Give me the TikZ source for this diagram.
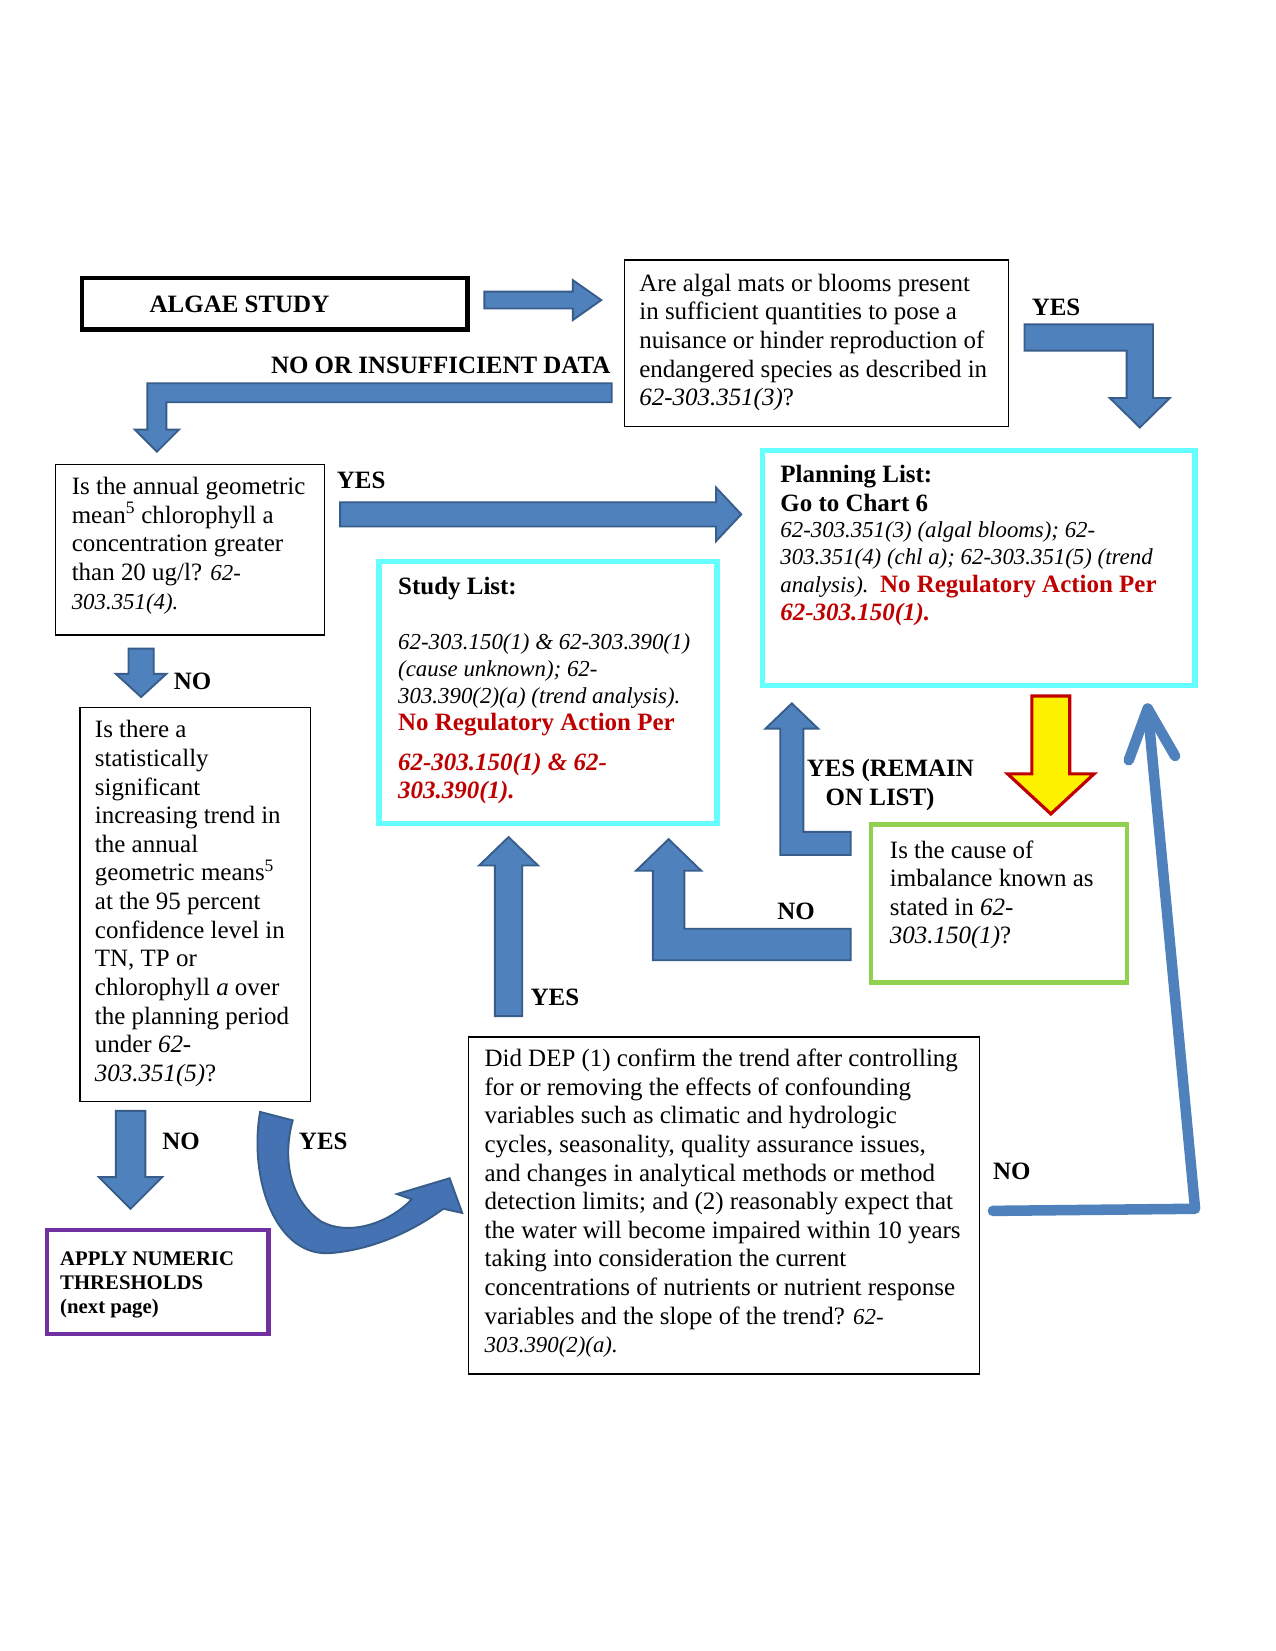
\documentclass[tikz,border=0pt]{standalone}
\usepackage{fontspec}
\setmainfont{Liberation Serif}
\usetikzlibrary{calc}

\definecolor{arrowblue}{HTML}{4F81BD}
\definecolor{arrowedge}{HTML}{385D8A}
\definecolor{curveblue}{HTML}{4472B2}
\definecolor{listcyan}{HTML}{66FFFF}
\definecolor{causegreen}{HTML}{92D050}
\definecolor{applypurple}{HTML}{7030A0}
\definecolor{ruled}{HTML}{C00000}

% straight block arrow: [style]{start}{end}{half shaft}{half head}{head length}
\newcommand\blockarrow[6][barrow]{%
  \coordinate (ba-h) at ($(#3)!#6!(#2)$);
  \path[#1] ($(#2)!#4!90:(#3)$) -- ($(ba-h)!#4!90:(#3)$) -- ($(ba-h)!#5!90:(#3)$) -- (#3)
    -- ($(ba-h)!#5!-90:(#3)$) -- ($(ba-h)!#4!-90:(#3)$) -- ($(#2)!#4!-90:(#3)$) -- cycle;}

% block arrow with one right-angle bend: [style]{start}{corner}{end}{half shaft}{half head}{head length}
\newcommand\bentarrow[7][barrow]{%
  \coordinate (ba-h) at ($(#4)!#7!(#3)$);
  \coordinate (ba-p) at ($(#3)!#5!-90:(#2)$);
  \coordinate (ba-m) at ($(#3)!#5!90:(#2)$);
  \path[#1] ($(#2)!#5!90:(#3)$) -- ($(ba-p)!#5!90:(#4)$) -- ($(ba-h)!#5!90:(#4)$)
    -- ($(ba-h)!#6!90:(#4)$) -- (#4) -- ($(ba-h)!#6!-90:(#4)$) -- ($(ba-h)!#5!-90:(#4)$)
    -- ($(ba-m)!#5!-90:(#4)$) -- ($(#2)!#5!-90:(#3)$) -- cycle;}

\newcommand\refit[1]{{\fontsize{21.7}{26}\selectfont\itshape #1}}

\begin{document}
\begin{tikzpicture}[x=1pt, y=-1pt,
    qbox/.style={draw, line width=1.3pt, inner sep=0pt, outer sep=0pt, anchor=north west},
    startbox/.style={qbox, line width=4.5pt},
    listbox/.style={qbox, draw=listcyan, line width=5pt},
    causebox/.style={qbox, draw=causegreen, line width=4pt},
    applybox/.style={qbox, draw=applypurple, line width=4pt},
    txt/.style={inner sep=0pt, anchor=north west, align=left, font=\fontsize{23.7}{27.2}\selectfont},
    lbl/.style={inner sep=0pt, font=\fontsize{23.7}{27.2}\selectfont\bfseries},
    barrow/.style={fill=arrowblue, draw=arrowedge, line width=1.8pt, line join=miter},
    yarrow/.style={fill=yellow, draw=ruled, line width=3pt, line join=miter},
    noline/.style={draw=arrowblue, line width=10pt, line cap=round, line join=round}]
\useasboundingbox[fill=white] (0,0) rectangle (1211,1568);

% boxes
\node[startbox, minimum width=366, minimum height=49] (algae) at (78,264) {};
\node[qbox, minimum width=365, minimum height=158] (q1) at (593,247) {};
\node[qbox, minimum width=255, minimum height=162] (q2) at (53,441) {};
\node[listbox, minimum width=411, minimum height=223] (plan) at (724,428) {};
\node[listbox, minimum width=321, minimum height=249] (study) at (360,533) {};
\node[qbox, minimum width=219, minimum height=374] (q3) at (76,672) {};
\node[applybox, minimum width=210, minimum height=99] (apply) at (45,1168) {};
\node[qbox, minimum width=485, minimum height=320] (dep) at (445,985) {};
\node[causebox, minimum width=243, minimum height=150] (cause) at (827,783) {};

% box texts
\node[lbl, anchor=west] (algae-t) at (142,289) {ALGAE STUDY};
\node[txt] (q1-t) at (607,260) {Are algal mats or blooms present\\in sufficient quantities to pose a\\nuisance or hinder reproduction of\\endangered species as described in\\\textit{62-303.351(3)}?};
\node[txt] (q2-t) at (68,453) {Is the annual geometric\\mean\textsuperscript{5} chlorophyll a\\concentration greater\\than 20 ug/l? \refit{62-}\\\refit{303.351(4).}};
\node[txt] (q3-t) at (90,684) {Is there a\\statistically\\significant\\increasing trend in\\the annual\\geometric means\textsuperscript{5}\\at the 95 percent\\confidence level in\\TN, TP or\\chlorophyll \textit{a} over\\the planning period\\under \textit{62-}\\\textit{303.351(5)}?};
\node[txt] (dep-t) at (460,996) {Did DEP (1) confirm the trend after controlling\\for or removing the effects of confounding\\variables such as climatic and hydrologic\\cycles, seasonality, quality assurance issues,\\and changes in analytical methods or method\\detection limits; and (2) reasonably expect that\\the water will become impaired within 10 years\\taking into consideration the current\\concentrations of nutrients or nutrient response\\variables and the slope of the trend? \refit{62-}\\\refit{303.390(2)(a).}};
\node[txt, font=\fontsize{23.7}{27}\selectfont\bfseries] (plan-t) at (741,442) {Planning List:\\Go to Chart 6};
\node[txt, font=\fontsize{21.7}{26.3}\selectfont\itshape] (plan-r) at (741,495) {62-303.351(3) (algal blooms); 62-\\303.351(4) (chl a); 62-303.351(5) (trend\\analysis).\ \ {\upshape\bfseries\color{ruled}\fontsize{23.7}{26.3}\selectfont No Regulatory Action Per}\\{\bfseries\color{ruled}\fontsize{23.7}{26.3}\selectfont 62-303.150(1).}};
\node[txt, font=\fontsize{23.7}{27}\selectfont\bfseries] (study-t) at (378,548) {Study List:};
\node[txt, font=\fontsize{21.7}{25.5}\selectfont\itshape] (study-r) at (378,602) {62-303.150(1) \& 62-303.390(1)\\(cause unknown); 62-\\303.390(2)(a) (trend analysis).};
\node[txt, font=\fontsize{23.7}{27}\selectfont\bfseries, text=ruled] (study-n) at (378,677) {No Regulatory Action Per};
\node[txt, font=\fontsize{23.7}{27}\selectfont\bfseries\itshape, text=ruled] (study-s) at (378,715) {62-303.150(1) \& 62-\\303.390(1).};
\node[txt] (cause-t) at (845,798) {Is the cause of\\imbalance known as\\stated in \textit{62-}\\\textit{303.150(1)}?};
\node[txt, font=\fontsize{19.7}{22.5}\selectfont\bfseries] (apply-t) at (57,1189) {APPLY NUMERIC\\THRESHOLDS\\(next page)};

% connector ends
\coordinate (a1s) at (460,285);   \coordinate (a1e) at (571,285);
\coordinate (a2s) at (973,320.5); \coordinate (a2c) at (1082.5,320.5); \coordinate (a2e) at (1082.5,406);
\coordinate (a3s) at (581,373);   \coordinate (a3c) at (149,373);      \coordinate (a3e) at (149,429);
\coordinate (a4s) at (323,488.5); \coordinate (a4e) at (704,488.5);
\coordinate (a5s) at (134,616);   \coordinate (a5e) at (134,662);
\coordinate (a6s) at (124,1055);  \coordinate (a6e) at (124,1148);
\coordinate (a8s) at (483,965);   \coordinate (a8e) at (483,795);
\coordinate (a9s) at (808,897);   \coordinate (a9c) at (635,897);      \coordinate (a9e) at (635,797);
\coordinate (a10s) at (808,801);  \coordinate (a10c) at (752,801);     \coordinate (a10e) at (752,668);
\coordinate (a11s) at (998,661);  \coordinate (a11e) at (998,773);
\coordinate (no-s) at (943,1150); \coordinate (no-c) at (1135,1148);   \coordinate (no-tip) at (1090,673);
\coordinate (no-wl) at (1072,722); \coordinate (no-wr) at (1116,718);

% block arrows
\blockarrow{a1s}{a1e}{8pt}{19pt}{27pt}
\bentarrow{a2s}{a2c}{a2e}{12.5pt}{28.5pt}{28pt}
\bentarrow{a3s}{a3c}{a3e}{9pt}{21pt}{21pt}
\blockarrow{a4s}{a4e}{11.5pt}{25.5pt}{24pt}
\blockarrow{a5s}{a5e}{12pt}{24pt}{22pt}
\blockarrow{a6s}{a6e}{14pt}{30pt}{30pt}
\blockarrow{a8s}{a8e}{13pt}{28pt}{27pt}
\bentarrow{a9s}{a9c}{a9e}{15pt}{31pt}{30pt}
\bentarrow{a10s}{a10c}{a10e}{11pt}{25pt}{24pt}
\blockarrow[yarrow]{a11s}{a11e}{18pt}{41pt}{38pt}

% curved YES arrow from q3 to dep
\path[barrow, fill=curveblue] (247,1056) .. controls (236,1120) and (262,1195) .. (315,1190)
  .. controls (360,1186) and (398,1165) .. (421,1148) -- (439,1152) -- (427,1119) -- (377,1134)
  -- (391,1139) .. controls (368,1163) and (330,1174) .. (305,1160)
  .. controls (275,1140) and (268,1100) .. (278,1064) -- cycle;

% NO line back to the planning list
\draw[noline] (no-s) -- (no-c) -- (no-tip);
\draw[noline] (no-wl) -- (no-tip) -- (no-wr);

% labels
\node[lbl] (l-yes1) at (1003,292) {YES};
\node[lbl, anchor=east] (l-nodata) at (580,347) {NO OR INSUFFICIENT DATA};
\node[lbl] (l-yes2) at (343,456) {YES};
\node[lbl] (l-no1) at (183,647) {NO};
\node[lbl] (l-no2) at (172,1084) {NO};
\node[lbl] (l-yes3) at (307,1084) {YES};
\node[lbl] (l-yes4) at (527,947) {YES};
\node[lbl] (l-no3) at (756,866) {NO};
\node[lbl, align=left, anchor=north west] (l-remain) at (766,721) {YES (REMAIN\\\hspace*{18pt}ON LIST)};
\node[lbl] (l-no4) at (961,1112) {NO};
\end{tikzpicture}
\end{document}
